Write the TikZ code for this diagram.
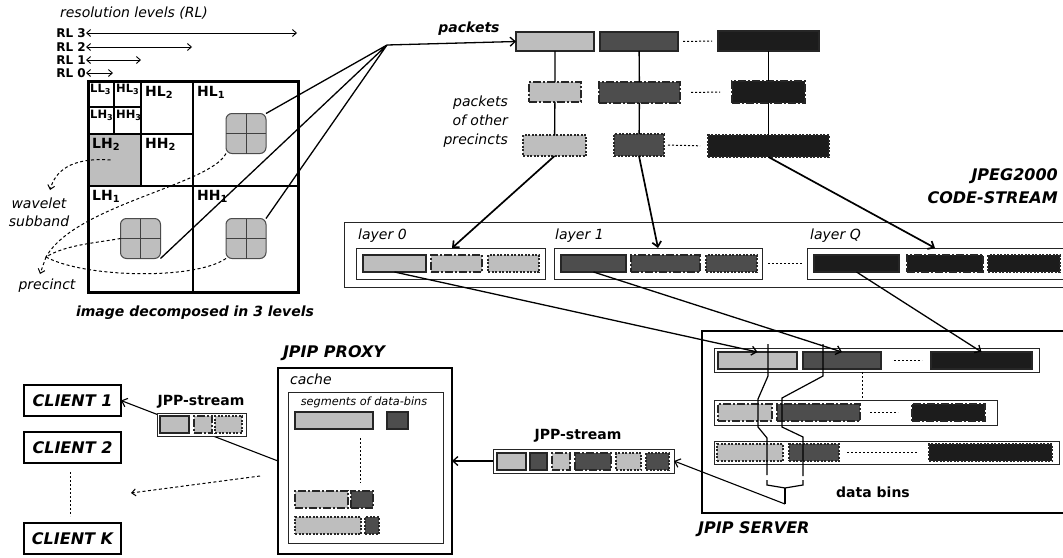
\documentclass[tikz,border=0pt]{standalone}
\usepackage{fontspec}
\setmainfont{DejaVu Sans}
\usetikzlibrary{arrows.meta,calc}
\definecolor{lg}{HTML}{BEBEBE}
\definecolor{dg}{HTML}{4D4D4D}
\definecolor{bk}{HTML}{1C1C1C}
\newcommand{\pbx}[6]{\node[#2, minimum width={#5-#3}, minimum height={#6-#4}] (#1) at ({(#3+#5)/2},{(#4+#6)/2}) {};}
\begin{document}
\begin{tikzpicture}[x=1pt,y=-1pt,
 pk/.style={draw=black!85, line width=1.1pt, inner sep=0pt, outer sep=0pt},
 pkdd/.style={pk, dash pattern=on 8pt off 2pt on 2pt off 2pt},
 pkdt/.style={pk, dash pattern=on 2pt off 1.5pt},
 cont/.style={draw=black!85, line width=1pt, fill=white, inner sep=0pt, outer sep=0pt},
 heavy/.style={draw=black, line width=2.6pt, fill=white, inner sep=0pt, outer sep=0pt},
 prec/.style={draw=black!70, line width=1pt, fill=lg, rounded corners=6pt, minimum size=40, inner sep=0pt, outer sep=0pt},
 conn/.style={line width=1.3pt},
 arr/.style={line width=1.3pt, -{Straight Barb[length=5pt,width=9pt]}},
 rlarr/.style={line width=0.9pt, {Straight Barb[length=4pt,width=7pt]}-{Straight Barb[length=4pt,width=7pt]}},
 dotln/.style={line width=1pt, dash pattern=on 2pt off 2pt},
 dsh/.style={line width=1pt, dash pattern=on 3pt off 2.5pt},
 tI/.style={inner sep=0pt, font=\fontsize{14}{19}\selectfont\itshape},
 tIs/.style={inner sep=0pt, font=\fontsize{11.3}{14}\selectfont\itshape},
 tB/.style={inner sep=0pt, font=\fontsize{14}{19}\selectfont\bfseries},
 tBI/.style={inner sep=0pt, font=\fontsize{14}{19}\selectfont\bfseries\itshape},
 tBIL/.style={inner sep=0pt, font=\fontsize{16}{23}\selectfont\bfseries\itshape},
 tRL/.style={inner sep=0pt, font=\fontsize{12}{14}\selectfont\bfseries},
 tSB/.style={inner sep=0pt, anchor=north west, font=\fontsize{14}{16}\selectfont\bfseries},
 tSBs/.style={inner sep=0pt, anchor=north west, font=\fontsize{11.5}{13}\selectfont\bfseries},
]
\useasboundingbox (0,0) rectangle (1063,557);
\clip (0,0) rectangle (1063,557);

% ---------- resolution levels ----------
\node[tI] (rltitle) at (134,13) {resolution levels (RL)};
\node[tRL, anchor=east] (rl3) at (86,33) {RL 3};
\node[tRL, anchor=east] (rl2) at (86,47) {RL 2};
\node[tRL, anchor=east] (rl1) at (86,60) {RL 1};
\node[tRL, anchor=east] (rl0) at (86,73) {RL 0};
\coordinate (rl3e) at (297,33);
\coordinate (rl2e) at (192,47);
\coordinate (rl1e) at (141,60);
\coordinate (rl0e) at (113,73);
\draw[rlarr] (rl3.east) -- (rl3e);
\draw[rlarr] (rl2.east) -- (rl2e);
\draw[rlarr] (rl1.east) -- (rl1e);
\draw[rlarr] (rl0.east) -- (rl0e);

% ---------- wavelet image ----------
\pbx{img}{fill=white, inner sep=0pt, outer sep=0pt}{88}{81}{298}{292}
\pbx{lh2}{fill=lg, inner sep=0pt, outer sep=0pt}{88}{134}{141}{186}
\draw[line width=1.8pt] (193,81) -- (193,292) (88,186) -- (298,186);
\draw[line width=2pt] (141,81) -- (141,186) (88,134) -- (193,134);
\draw[line width=1.6pt] (114,81) -- (114,134) (88,107) -- (141,107);
\draw[line width=3pt] (img.north west) rectangle (img.south east);
\node[tSBs] (ll3) at (90,84) {LL\textsubscript{3}};
\node[tSBs] (hl3) at (116,84) {HL\textsubscript{3}};
\node[tSBs] (lh3) at (90,110) {LH\textsubscript{3}};
\node[tSBs] (hh3) at (116,110) {HH\textsubscript{3}};
\node[tSB] (hl2) at (145,86) {HL\textsubscript{2}};
\node[tSB] (lh2l) at (92,138) {LH\textsubscript{2}};
\node[tSB] (hh2) at (145,138) {HH\textsubscript{2}};
\node[tSB] (hl1) at (197,86) {HL\textsubscript{1}};
\node[tSB] (lh1) at (92,190) {LH\textsubscript{1}};
\node[tSB] (hh1) at (197,190) {HH\textsubscript{1}};

\node[prec] (pr1) at (246,133.5) {};
\node[prec] (pr2) at (140.5,238.5) {};
\node[prec] (pr3) at (246,238.5) {};
\foreach \p in {pr1,pr2,pr3}{
  \draw[line width=1pt, black!75] (\p.north) -- (\p.south) (\p.west) -- (\p.east);
}
\node[tBI] (imgcap) at (195,313) {image decomposed in 3 levels};

% dashed curves
\node[tI, align=center, font=\fontsize{14}{18}\selectfont\itshape] (wvl) at (39,212) {wavelet\\subband};
\node[tI] (precl) at (47,286) {precinct};
\coordinate (wvT) at (50,190);
\draw[dsh, -{Straight Barb[length=4pt,width=7pt]}] ($(lh2.center)+(-4,0)$) .. controls (70,157) and (55,172) .. (wvT);
\coordinate (prc) at (46,257);
\coordinate (prcT) at (40,274);
\draw[dsh] (pr1.south west) .. controls (210,185) and (75,205) .. (prc);
\draw[dsh] (pr2.west) .. controls (95,243) and (65,245) .. (prc);
\draw[dsh] (pr3.south west) .. controls (195,280) and (85,278) .. (prc);
\draw[dsh, -{Straight Barb[length=4pt,width=7pt]}] (prc) -- (prcT);

% ---------- packets ----------
\node[tBI] (pklab) at (469,29) {packets};
\pbx{p11}{pk,fill=lg}{516}{32}{594}{51}
\pbx{p12}{pk,fill=dg}{600}{32}{678}{51}
\pbx{p13}{pk,fill=bk}{718}{31}{819}{51}
\pbx{p21}{pkdd,fill=lg}{529}{82}{581}{102}
\pbx{p22}{pkdd,fill=dg}{599}{82}{680}{103}
\pbx{p23}{pkdd,fill=bk}{732}{81}{805}{103}
\pbx{p31}{pkdt,fill=lg}{523}{135}{586}{156}
\pbx{p32}{pkdt,fill=dg}{614}{134}{664}{156}
\pbx{p33}{pkdt,fill=bk}{708}{135}{829}{157}
\draw[conn] (p11) -- (p21) -- (p31);
\draw[conn] (p12) -- (p22) -- (p32);
\draw[conn] (p13) -- (p23) -- (p33);
\draw[dotln, shorten <=5pt, shorten >=6pt] (p12.east) -- (p13.west);
\draw[dotln, shorten <=11pt, shorten >=12pt] (p22.east) -- (p23.west);
\draw[dotln, shorten <=4pt, shorten >=8pt] (p32.east) -- (p33.west);
\node[tI, align=right, anchor=east] (other) at (508,122) {packets\\of other\\precincts};

\coordinate (pk) at (387,45);
\draw[conn] (pr1.north east) -- (pk) (pr2.south east) -- (pk) (pr3.north east) -- (pk);
\draw[arr] (pk) -- (p11.west);

% ---------- code-stream ----------
\node[tBIL, align=right, anchor=east] (csl) at (1058,186) {JPEG2000\\CODE-STREAM};
\pbx{cs}{cont}{344}{222}{1075}{287}
\pbx{lay0}{cont}{356}{248}{545}{279}
\pbx{l0a}{pk,fill=lg}{363}{255}{426}{272}
\pbx{l0b}{pkdd,fill=lg}{431}{255}{482}{272}
\pbx{l0c}{pkdt,fill=lg}{488}{255}{539}{272}
\pbx{lay1}{cont}{554}{248}{762}{279}
\pbx{l1a}{pk,fill=dg}{561}{255}{626}{272}
\pbx{l1b}{pkdd,fill=dg}{631}{255}{700}{272}
\pbx{l1c}{pkdt,fill=dg}{706}{255}{757}{272}
\pbx{layQ}{cont}{807}{248}{1075}{279}
\pbx{lQa}{pk,fill=bk}{814}{255}{899}{272}
\pbx{lQb}{pkdd,fill=bk}{907}{255}{983}{272}
\pbx{lQc}{pkdt,fill=bk}{988}{255}{1060}{272}
\node[tI, anchor=west] (lt0) at (358,236) {layer 0};
\node[tI, anchor=west] (lt1) at (555,236) {layer 1};
\node[tI, anchor=west] (ltQ) at (810,236) {layer Q};
\draw[dotln, shorten <=6pt, shorten >=5pt] (lay1.east) -- (layQ.west);
\draw[arr, line width=1.7pt] (p31.south) -- ($(lay0.north west)+(96,0)$);
\draw[arr, line width=1.7pt] (p32.south) -- ($(lay1.north west)+(104,0)$);
\draw[arr, line width=1.7pt] (p33.south) -- ($(layQ.north west)+(128,0)$);

% ---------- server ----------
\pbx{srv}{heavy}{702}{331}{1075}{513}
\node[tBIL, anchor=west] (srvl) at (698,529) {JPIP SERVER};
\pbx{s1}{cont}{714}{348}{1039}{372}
\pbx{s1a}{pk,fill=lg}{718}{352}{797}{369}
\pbx{s1b}{pk,fill=dg}{803}{352}{881}{369}
\pbx{s1c}{pk,fill=bk}{931}{352}{1032}{369}
\pbx{s2}{cont}{714}{400}{997}{425}
\pbx{s2a}{pkdd,fill=lg}{718}{404}{772}{421}
\pbx{s2b}{pkdd,fill=dg}{777}{404}{860}{421}
\pbx{s2c}{pkdd,fill=bk}{912}{404}{985}{421}
\pbx{s3}{cont}{714}{441}{1059}{464}
\pbx{s3a}{pkdt,fill=lg}{717}{444}{783}{461}
\pbx{s3b}{pkdt,fill=dg}{789}{444}{839}{461}
\pbx{s3c}{pkdt,fill=bk}{929}{444}{1052}{461}
\draw[dotln, shorten <=13pt, shorten >=9pt] (s1b.east) -- (s1c.west);
\draw[dotln, shorten <=10pt, shorten >=14pt] (s2b.east) -- (s2c.west);
\draw[dotln, shorten <=8pt, shorten >=12pt] (s3b.east) -- (s3c.west);
\draw[dotln] ($(s1.south west)+(148,0)$) -- ++(0,26);
\node[tB] (dbl) at (873,492) {data bins};

% zig-zag data-bin lines and brace
\draw[line width=1.2pt] (768,344) -- (768,376) -- (758,399) -- (758,427) -- (767,438) -- (767,475);
\draw[line width=1.2pt] (823,344) -- (823,376) -- (782,398) -- (782,427) -- (803,437) -- (803,476);
\draw[line width=1.2pt] (767,480) -- (767,485) -- (785,488) -- (803,485) -- (803,480);
\coordinate (btip) at (785,504);
\draw[line width=1.2pt] (785,488) -- (btip);

% arrows layers -> server
\draw[arr] (l0a.south) -- (s1a.north);
\draw[arr] (l1a.south) -- (s1b.north);
\draw[arr] (lQa.south) -- (s1c.north);

% ---------- proxy ----------
\pbx{prx}{heavy}{278}{368}{452}{554}
\node[tBIL] (prxl) at (334,353) {JPIP PROXY};
\node[tI, anchor=west] (cachel) at (290,379) {cache};
\pbx{cache}{cont}{288}{392}{443}{543}
\node[tIs] (segl) at (364,402) {segments of data-bins};
\pbx{q1a}{pk,fill=lg}{295}{412}{373}{429}
\pbx{q1b}{pk,fill=dg}{387}{412}{408}{429}
\pbx{q2a}{pkdd,fill=lg}{295}{491}{348}{508}
\pbx{q2b}{pkdd,fill=dg}{351}{491}{373}{508}
\pbx{q3a}{pkdt,fill=lg}{295}{517}{361}{534}
\pbx{q3b}{pkdt,fill=dg}{365}{517}{379}{534}
\draw[dotln] ($(q1a.south west)+(65,9)$) -- ++(0,45);

% JPP-stream server -> proxy
\node[tB] (jppl) at (578,436) {JPP-stream};
\pbx{jpp}{cont}{493}{449}{674}{473}
\pbx{j1}{pk,fill=lg}{497}{453}{526}{470}
\pbx{j2}{pk,fill=dg}{530}{453}{547}{470}
\pbx{j3}{pkdd,fill=lg}{552}{453}{570}{470}
\pbx{j4}{pkdd,fill=dg}{575}{453}{611}{470}
\pbx{j5}{pkdt,fill=lg}{616}{453}{641}{470}
\pbx{j6}{pkdt,fill=dg}{646}{453}{669}{470}
\draw[arr] (jpp.west) -- (prx.east);
\draw[arr, line width=1.1pt] (btip) -- (jpp.east);

% ---------- clients ----------
\node[heavy, tBIL, minimum width=97, minimum height=31] (c1) at (72.5,400.5) {CLIENT 1};
\node[heavy, tBIL, minimum width=97, minimum height=31] (c2) at (72.5,447.5) {CLIENT 2};
\node[heavy, tBIL, minimum width=97, minimum height=31] (cK) at (72.5,538.5) {CLIENT K};
\draw[dotln] ($(c2.south)+(-2,9)$) -- ($(cK.north)+(-2,-7)$);
\draw[arr, line width=1.1pt] (prx.west) -- (c1.east);
\node[tB] (jpsl) at (201,402) {JPP-stream};
\pbx{jps}{cont}{157}{413}{246}{436}
\pbx{k1}{pk,fill=lg}{160}{416}{189}{433}
\pbx{k2}{pkdd,fill=lg}{194}{416}{212}{433}
\pbx{k3}{pkdt,fill=lg}{215}{416}{242}{433}
\coordinate (da1) at (260,476);
\coordinate (da2) at (131,493);
\draw[dsh, -{Straight Barb[length=4pt,width=7pt]}] (da1) -- (da2);
\end{tikzpicture}
\end{document}
